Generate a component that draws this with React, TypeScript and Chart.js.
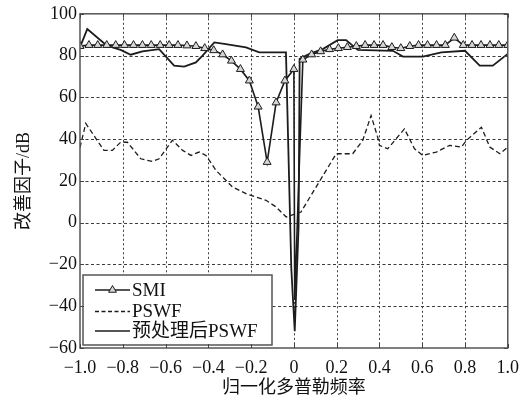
import React, { useEffect, useRef } from 'react';
import { Chart, registerables } from 'chart.js';
Chart.register(...registerables);

// ---------- data ----------
const seriesLabels = ['SMI', 'PSWF', '预处理后PSWF'];
const xTitle = '归一化多普勒频率';
const yTitle = '改善因子/dB';

const xTicks = [-1, -0.8, -0.6, -0.4, -0.2, 0, 0.2, 0.4, 0.6, 0.8, 1];
const xTickLabels = ['−1.0', '−0.8', '−0.6', '−0.4', '−0.2', '0', '0.2', '0.4', '0.6', '0.8', '1.0'];
const yTicks = [-60, -40, -20, 0, 20, 40, 60, 80, 100];
const yTickLabels = ['−60', '−40', '−20', '0', '20', '40', '60', '80', '100'];

// SMI (markers every 1/24)
const smiX = [
  -1.0, -0.958, -0.917, -0.875, -0.833, -0.792, -0.75, -0.708, -0.667, -0.625,
  -0.583, -0.542, -0.5, -0.458, -0.417, -0.375, -0.333, -0.292, -0.25, -0.208,
  -0.167, -0.125, -0.083, -0.042, 0, 0.042, 0.083, 0.125, 0.167, 0.208,
  0.25, 0.292, 0.333, 0.375, 0.417, 0.458, 0.5, 0.542, 0.583, 0.625,
  0.667, 0.708, 0.75, 0.792, 0.833, 0.875, 0.917, 0.958, 1.0,
];
const smiY = [
  84.5, 85, 85, 85, 85, 85, 85, 85, 85, 85,
  85, 85, 84.8, 84.5, 83.5, 82.5, 80.5, 77.5, 73.5, 68,
  55.5, 29, 57.5, 68, 73.5, 78, 80.5, 82, 83, 83.5,
  84, 84.5, 85, 85, 85, 84, 83.5, 84.5, 85, 85,
  85, 85, 88.5, 85, 85, 85, 85, 85, 85,
];
// SMI narrow notch at zero frequency (no marker)
const smiNotchX = [0.004];
const smiNotchY = [-37];

// PSWF (dashed)
const pswfX = [
  -1.0, -0.973, -0.888, -0.849, -0.81, -0.778, -0.716, -0.661, -0.63, -0.568,
  -0.52, -0.481, -0.443, -0.411, -0.364, -0.287, -0.224, -0.13, -0.083, -0.036,
  0.033, 0.198, 0.275, 0.322, 0.361, 0.392, 0.4, 0.439, 0.517, 0.564,
  0.603, 0.666, 0.728, 0.783, 0.807, 0.877, 0.916, 0.963, 1.0,
];
const pswfY = [
  36, 47.5, 34.6, 34.6, 38.5, 38.5, 30.6, 29.3, 30.6, 39.5,
  34.6, 32.2, 33.8, 32.2, 25, 17.1, 13.9, 10.7, 7.5, 2.7,
  5.1, 33, 33, 39.4, 51.3, 40.9, 37, 35.4, 44.9, 35.4,
  32.2, 33.8, 37, 36.2, 39.4, 45.7, 36.2, 33, 36.2,
];

// preprocessed PSWF (solid)
const preX = [
  -1.0, -0.966, -0.874, -0.81, -0.763, -0.708, -0.63, -0.56, -0.513, -0.458,
  -0.427, -0.372, -0.318, -0.224, -0.162, -0.037, -0.012, 0.004, 0.022, 0.027,
  0.073, 0.135, 0.205, 0.244, 0.299, 0.463, 0.51, 0.603, 0.69, 0.8,
  0.869, 0.93, 1.0,
];
const preY = [
  84, 92.7, 84.7, 82.7, 80.4, 82, 83.1, 75.2, 74.7, 76.7,
  80, 86.3, 85.5, 83.9, 81.5, 81.5, -22, -52, -2, 78.5,
  80.8, 83.1, 87.4, 87.4, 82.7, 82.3, 79.5, 79.5, 81.5, 82.3,
  75.2, 75.2, 80.8,
];

// ---------- styling ----------
const SERIF = "'Liberation Serif', 'Times New Roman', 'Noto Sans CJK SC', serif";
const LINE = '#1c1c1c';
const MARKER_FILL = '#d6d6d6';

const W = 528;
const H = 403;

function zip(xs: number[], ys: number[]) {
  return xs.map((x, i) => ({ x, y: ys[i] }));
}

export default function App() {
  const ref = useRef<HTMLCanvasElement | null>(null);

  useEffect(() => {
    if (!ref.current) return;

    const smiPts = zip(smiX, smiY)
      .map((p) => ({ ...p, m: 1 }))
      .concat(zip(smiNotchX, smiNotchY).map((p) => ({ ...p, m: 0 })))
      .sort((a, b) => a.x - b.x);

    const gridPlugin = {
      id: 'gridFrame',
      beforeDatasetsDraw(chart: any) {
        const { ctx, chartArea, scales } = chart;
        const { left, right, top, bottom } = chartArea;
        ctx.save();
        ctx.strokeStyle = '#3a3a3a';
        ctx.lineWidth = 1;
        ctx.setLineDash([2, 2.5]);
        xTicks.slice(1, -1).forEach((v) => {
          const px = Math.round(scales.x.getPixelForValue(v)) + 0.5;
          ctx.beginPath();
          ctx.moveTo(px, top);
          ctx.lineTo(px, bottom);
          ctx.stroke();
        });
        ctx.setLineDash([3, 2.5]);
        yTicks.slice(1, -1).forEach((v) => {
          const py = Math.round(scales.y.getPixelForValue(v)) + 0.5;
          ctx.beginPath();
          ctx.moveTo(left, py);
          ctx.lineTo(right, py);
          ctx.stroke();
        });
        ctx.restore();
      },
      afterDatasetsDraw(chart: any) {
        const { ctx, chartArea } = chart;
        const { left, right, top, bottom } = chartArea;
        ctx.save();
        ctx.setLineDash([]);
        ctx.strokeStyle = '#555';
        ctx.lineWidth = 1.5;
        ctx.strokeRect(left, top, right - left, bottom - top);
        ctx.restore();
      },
      afterDraw(chart: any) {
        const { ctx, chartArea, scales } = chart;
        const { left, right, top, bottom } = chartArea;
        const bx = left + 3;
        const by = bottom - 73;
        const bw = 189;
        const bh = 70;
        ctx.save();
        ctx.setLineDash([]);
        ctx.fillStyle = '#fff';
        ctx.fillRect(bx, by, bw, bh);
        ctx.strokeStyle = '#555';
        ctx.lineWidth = 1.5;
        ctx.strokeRect(bx, by, bw, bh);
        // inward tick marks (drawn on top, like MATLAB axes)
        ctx.lineWidth = 1;
        ctx.strokeStyle = '#444';
        xTicks.forEach((v) => {
          const px = Math.round(scales.x.getPixelForValue(v)) + 0.5;
          ctx.beginPath();
          ctx.moveTo(px, bottom);
          ctx.lineTo(px, bottom - 4);
          ctx.moveTo(px, top);
          ctx.lineTo(px, top + 4);
          ctx.stroke();
        });
        yTicks.forEach((v) => {
          const py = Math.round(scales.y.getPixelForValue(v)) + 0.5;
          ctx.beginPath();
          ctx.moveTo(left, py);
          ctx.lineTo(left + 4, py);
          ctx.moveTo(right, py);
          ctx.lineTo(right - 4, py);
          ctx.stroke();
        });
        const rows = [by + 15, by + 36.5, by + 56];
        const lx0 = bx + 12;
        const lx1 = bx + 47;
        ctx.font = `19px ${SERIF}`;
        ctx.textBaseline = 'middle';
        ctx.textAlign = 'left';
        seriesLabels.forEach((label, i) => {
          const y = rows[i];
          ctx.strokeStyle = LINE;
          ctx.lineWidth = i === 1 ? 1.3 : 1.6;
          ctx.setLineDash(i === 1 ? [4, 2.5] : []);
          ctx.beginPath();
          ctx.moveTo(lx0, y);
          ctx.lineTo(lx1, y);
          ctx.stroke();
          ctx.setLineDash([]);
          if (i === 0) {
            const cx = (lx0 + lx1) / 2;
            const r = 4.5;
            ctx.beginPath();
            ctx.moveTo(cx, y - r);
            ctx.lineTo(cx + r * 0.866, y + r * 0.5);
            ctx.lineTo(cx - r * 0.866, y + r * 0.5);
            ctx.closePath();
            ctx.fillStyle = MARKER_FILL;
            ctx.fill();
            ctx.lineWidth = 1;
            ctx.stroke();
          }
          ctx.fillStyle = '#111';
          ctx.fillText(label, lx1 + 2, y + 1);
        });
        ctx.restore();
      },
    };

    const chart = new Chart(ref.current, {
      type: 'line',
      data: {
        datasets: [
          {
            label: seriesLabels[0],
            data: smiPts,
            borderColor: LINE,
            borderWidth: 1.6,
            pointStyle: 'triangle',
            pointRadius: smiPts.map((p) => (p.m ? 4.6 : 0)),
            pointBorderWidth: 1,
            pointBorderColor: LINE,
            pointBackgroundColor: MARKER_FILL,
            tension: 0,
            fill: false,
            order: 1,
          },
          {
            label: seriesLabels[1],
            data: zip(pswfX, pswfY),
            borderColor: LINE,
            borderWidth: 1.3,
            borderDash: [5, 3],
            pointRadius: 0,
            tension: 0,
            fill: false,
            order: 3,
          },
          {
            label: seriesLabels[2],
            data: zip(preX, preY),
            borderColor: LINE,
            borderWidth: 1.8,
            pointRadius: 0,
            tension: 0,
            fill: false,
            order: 2,
          },
        ],
      },
      options: {
        animation: false,
        responsive: false,
        devicePixelRatio: 1,
        parsing: { xAxisKey: 'x', yAxisKey: 'y' } as any,
        layout: { padding: { top: 12, right: 19, left: 0, bottom: 0 } },
        plugins: {
          legend: { display: false },
          tooltip: { enabled: false },
        },
        scales: {
          x: {
            type: 'linear',
            min: -1,
            max: 1,
            afterBuildTicks: (s: any) => {
              s.ticks = xTicks.map((v) => ({ value: v }));
            },
            afterFit: (s: any) => {
              s.height = H - 348;
            },
            grid: { display: false, drawTicks: false },
            border: { display: false },
            ticks: {
              autoSkip: false,
              maxRotation: 0,
              padding: 9,
              color: '#111',
              font: { family: SERIF, size: 18 },
              callback: (_v: any, i: number) => xTickLabels[i],
            },
            title: {
              display: true,
              text: xTitle,
              color: '#111',
              font: { family: SERIF, size: 18 },
              padding: { top: 0, bottom: 4 },
            },
          },
          y: {
            type: 'linear',
            min: -60,
            max: 100,
            afterBuildTicks: (s: any) => {
              s.ticks = yTicks.map((v) => ({ value: v }));
            },
            afterFit: (s: any) => {
              s.width = 80;
            },
            grid: { display: false, drawTicks: false },
            border: { display: false },
            ticks: {
              autoSkip: false,
              padding: 3,
              color: '#111',
              font: { family: SERIF, size: 18 },
              callback: (_v: any, i: number) => yTickLabels[i],
            },
            title: {
              display: true,
              text: yTitle,
              color: '#111',
              font: { family: SERIF, size: 18 },
              padding: { top: 13, bottom: 0 },
            },
          },
        },
      },
      plugins: [gridPlugin],
    });

    return () => chart.destroy();
  }, []);

  return (
    <div style={{ position: 'fixed', left: 0, top: 0, width: W, height: H, background: '#fff' }}>
      <canvas ref={ref} width={W} height={H} style={{ display: 'block', width: W, height: H }} />
    </div>
  );
}
